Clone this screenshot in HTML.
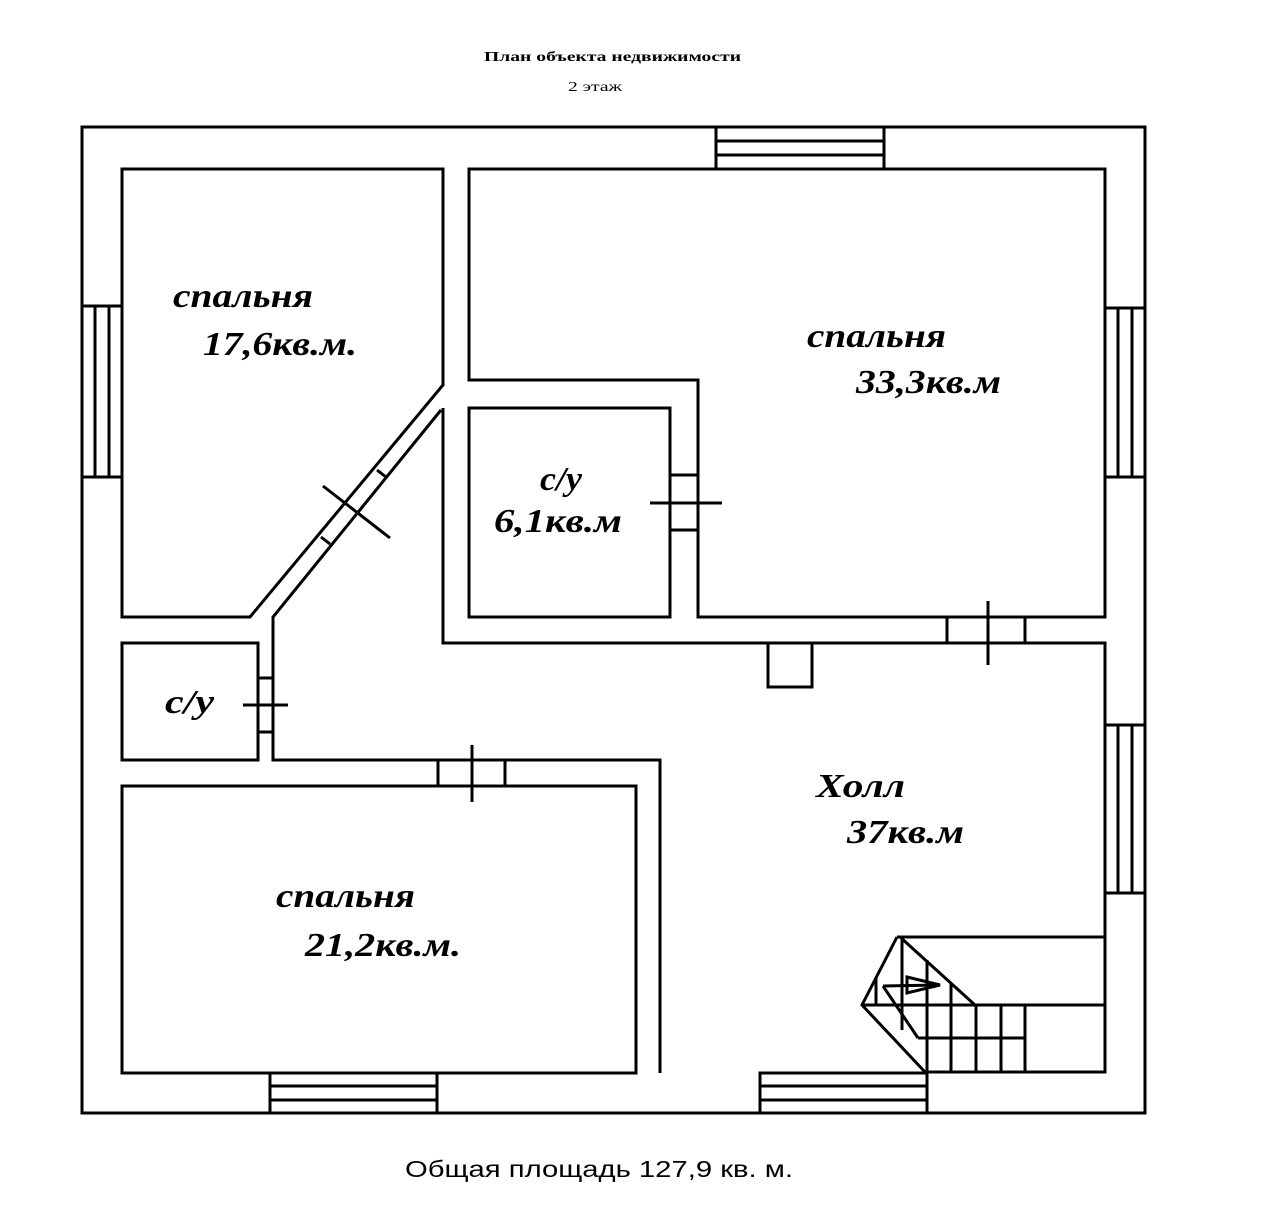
<!DOCTYPE html>
<html><head><meta charset="utf-8"><style>
body{margin:0;background:#fff;}
svg{display:block}
.r{font-family:"Liberation Serif",serif;font-style:italic;font-weight:bold;font-size:34px;fill:#000}
</style></head><body>
<svg width="1280" height="1216" viewBox="0 0 1280 1216" xmlns="http://www.w3.org/2000/svg">
<g fill="none" stroke="#000" stroke-width="3">
<rect x="82" y="127" width="1063" height="986"/>
<rect x="716" y="127" width="168" height="42" fill="#fff"/>
<line x1="716" y1="141" x2="884" y2="141"/><line x1="716" y1="155" x2="884" y2="155"/>
<rect x="82" y="306" width="40" height="171" fill="#fff"/>
<line x1="95" y1="306" x2="95" y2="477"/><line x1="109" y1="306" x2="109" y2="477"/>
<rect x="1105" y="308" width="40" height="169" fill="#fff"/>
<line x1="1118" y1="308" x2="1118" y2="477"/><line x1="1132" y1="308" x2="1132" y2="477"/>
<rect x="1105" y="725" width="40" height="168" fill="#fff"/>
<line x1="1118" y1="725" x2="1118" y2="893"/><line x1="1132" y1="725" x2="1132" y2="893"/>
<rect x="270" y="1073" width="167" height="40" fill="#fff"/>
<line x1="270" y1="1086" x2="437" y2="1086"/><line x1="270" y1="1100" x2="437" y2="1100"/>
<rect x="760" y="1073" width="167" height="40" fill="#fff"/>
<line x1="760" y1="1086" x2="927" y2="1086"/><line x1="760" y1="1100" x2="927" y2="1100"/>
<path d="M122 169 L443 169 L443 385 L250 617 L122 617 Z"/>
<path d="M469 169 L1105 169 L1105 617 L698 617 L698 380 L469 380 Z"/>
<rect x="469" y="408" width="201" height="209"/>
<rect x="122" y="643" width="136" height="117"/>
<rect x="122" y="786" width="514" height="287"/>
<path d="M443 408 L443 643 L1105 643 L1105 1072 L925 1072"/>
<path d="M441 410 L273 617 L273 760 L660 760 L660 1073"/>
<rect x="768" y="643" width="44" height="44"/>
<line x1="377" y1="470" x2="386" y2="477"/><line x1="321" y1="537" x2="330" y2="544"/>
<line x1="323" y1="486" x2="390" y2="538"/>
<line x1="670" y1="475" x2="698" y2="475"/><line x1="670" y1="530" x2="698" y2="530"/>
<line x1="650" y1="503" x2="722" y2="503"/>
<line x1="258" y1="678" x2="273" y2="678"/><line x1="258" y1="732" x2="273" y2="732"/>
<line x1="243" y1="705" x2="288" y2="705"/>
<line x1="438" y1="760" x2="438" y2="786"/><line x1="505" y1="760" x2="505" y2="786"/>
<line x1="472" y1="745" x2="472" y2="802"/>
<line x1="947" y1="617" x2="947" y2="643"/><line x1="1025" y1="617" x2="1025" y2="643"/>
<line x1="988" y1="601" x2="988" y2="665"/>
<line x1="897" y1="937" x2="1105" y2="937"/>
<path d="M897 937 L862 1005 L925 1072"/>
<line x1="900" y1="937" x2="975" y2="1005"/>
<line x1="862" y1="1005" x2="1105" y2="1005"/>
<line x1="918" y1="1038" x2="1025" y2="1038"/>
<line x1="883" y1="986" x2="918" y2="1038"/>
<line x1="876" y1="978" x2="876" y2="1005"/>
<line x1="902" y1="937" x2="902" y2="1030"/>
<line x1="927" y1="960" x2="927" y2="1072"/>
<line x1="951" y1="983" x2="951" y2="1072"/>
<line x1="976" y1="1005" x2="976" y2="1072"/>
<line x1="1001" y1="1005" x2="1001" y2="1072"/>
<line x1="1025" y1="1005" x2="1025" y2="1072"/>
<line x1="883" y1="986" x2="940" y2="985"/>
<path d="M907 977 L940 985 L907 993 Z"/>
</g>
<text x="484" y="61" textLength="257" lengthAdjust="spacingAndGlyphs" font-family="Liberation Serif,serif" font-weight="bold" font-size="14">План объекта недвижимости</text>
<text x="568" y="91" textLength="54" lengthAdjust="spacingAndGlyphs" font-family="Liberation Serif,serif" font-size="14">2 этаж</text>
<text class="r" x="173" y="307" textLength="140" lengthAdjust="spacingAndGlyphs">спальня</text>
<text class="r" x="203" y="355" textLength="154" lengthAdjust="spacingAndGlyphs">17,6кв.м.</text>
<text class="r" x="807" y="347" textLength="139" lengthAdjust="spacingAndGlyphs">спальня</text>
<text class="r" x="856" y="393" textLength="145" lengthAdjust="spacingAndGlyphs">33,3кв.м</text>
<text class="r" x="540" y="490" textLength="42" lengthAdjust="spacingAndGlyphs">с/у</text>
<text class="r" x="494" y="532" textLength="128" lengthAdjust="spacingAndGlyphs">6,1кв.м</text>
<text class="r" x="165" y="713" textLength="49" lengthAdjust="spacingAndGlyphs">с/у</text>
<text class="r" x="816" y="797" textLength="89" lengthAdjust="spacingAndGlyphs">Холл</text>
<text class="r" x="847" y="843" textLength="117" lengthAdjust="spacingAndGlyphs">37кв.м</text>
<text class="r" x="276" y="907" textLength="139" lengthAdjust="spacingAndGlyphs">спальня</text>
<text class="r" x="305" y="956" textLength="156" lengthAdjust="spacingAndGlyphs">21,2кв.м.</text>
<text x="405" y="1177" textLength="388" lengthAdjust="spacingAndGlyphs" font-family="Liberation Sans,sans-serif" font-size="23">Общая площадь 127,9 кв. м.</text>
</svg>
</body></html>
